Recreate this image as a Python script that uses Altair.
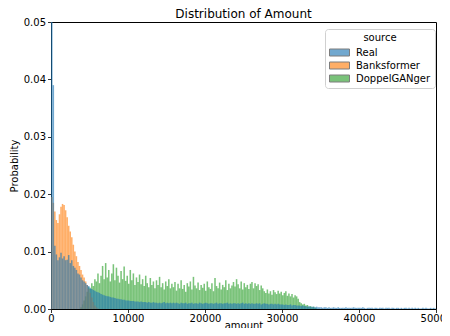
import altair as alt
import pandas as pd

BIN_WIDTH = 200
sources = ["Real", "Banksformer", "DoppelGANger"]
colors = ["#1f77b4", "#ff7f0e", "#2ca02c"]
x_ticks = [0, 10000, 20000, 30000, 40000, 50000]
y_ticks = [0.0, 0.01, 0.02, 0.03, 0.04, 0.05]

real_start = 0
real_prob = [
    0.06, 0.039, 0.011, 0.0095, 0.0085, 0.009, 0.0098, 0.0088, 0.0092, 0.0085,
    0.0086, 0.0094, 0.008, 0.0085, 0.0075, 0.0072, 0.0068, 0.0062, 0.006, 0.0055,
    0.005, 0.0048, 0.0045, 0.0042, 0.004, 0.0037, 0.0035, 0.0033, 0.0032, 0.003,
    0.0029, 0.0028, 0.0026, 0.0025, 0.0024, 0.0023, 0.0022, 0.0022, 0.0021, 0.002,
    0.002, 0.0019, 0.0018, 0.0018, 0.0017, 0.0017, 0.0016, 0.0016, 0.0015, 0.0015,
    0.0015, 0.0014, 0.0014, 0.0014, 0.0013, 0.0013, 0.0013, 0.0012, 0.0013, 0.0012,
    0.0012, 0.0012, 0.0011, 0.0012, 0.0011, 0.0011, 0.0012, 0.0011, 0.0011, 0.001,
    0.0011, 0.001, 0.0011, 0.0012, 0.001, 0.0011, 0.001, 0.0011, 0.001, 0.0011,
    0.001, 0.0011, 0.001, 0.0009, 0.0011, 0.001, 0.001, 0.0011, 0.0009, 0.001,
    0.001, 0.0011, 0.0009, 0.001, 0.001, 0.0009, 0.0011, 0.001, 0.0009, 0.001,
    0.0011, 0.001, 0.0009, 0.001, 0.001, 0.0009, 0.001, 0.0011, 0.0009, 0.001,
    0.001, 0.0009, 0.001, 0.001, 0.0011, 0.0009, 0.001, 0.0009, 0.001, 0.001,
    0.0009, 0.001, 0.0009, 0.001, 0.0011, 0.0009, 0.001, 0.0009, 0.001, 0.0009,
    0.001, 0.0009, 0.0009, 0.001, 0.0009, 0.001, 0.0008, 0.0009, 0.001, 0.0009,
    0.0009, 0.0008, 0.0009, 0.0009, 0.0008, 0.0009, 0.0008, 0.0009, 0.0008, 0.0008,
    0.0008, 0.0007, 0.0008, 0.0007, 0.0007, 0.0008, 0.0006, 0.0007, 0.0007, 0.0006,
    0.0006, 0.0006, 0.0005, 0.0006, 0.0005, 0.0005, 0.0004, 0.0005, 0.0004, 0.0004,
    0.0004, 0.0003, 0.0004, 0.0003, 0.0003, 0.0003, 0.0002, 0.0003, 0.0003, 0.0002,
    0.0003, 0.0002, 0.0002, 0.0003, 0.0002, 0.0002, 0.0003, 0.0002, 0.0002, 0.0002,
    0.0002, 0.0003, 0.0002, 0.0002, 0.0002, 0.0002, 0.0003, 0.0002, 0.0002, 0.0002,
    0.0002, 0.0002, 0.0003, 0.0002, 0.0001, 0.0002, 0.0002, 0.0002, 0.0002, 0.0001,
    0.0002, 0.0002, 0.0001, 0.0002, 0.0002, 0.0002, 0.0001, 0.0002, 0.0002, 0.0002,
    0.0001, 0.0002, 0.0002, 0.0001, 0.0002, 0.0002, 0.0001, 0.0002, 0.0001, 0.0002,
    0.0002, 0.0001, 0.0002, 0.0001, 0.0002, 0.0001, 0.0002, 0.0001, 0.0002, 0.0001,
    0.0001, 0.0002, 0.0001, 0.0002, 0.0001, 0.0001, 0.0002, 0.0001, 0.0002, 0.0001,
]

banks_start = 0
banks_prob = [
    0.0195, 0.0185, 0.017, 0.0155, 0.015, 0.0165, 0.0178, 0.0183, 0.0181, 0.0172,
    0.016, 0.0145, 0.0135, 0.0125, 0.0112, 0.01, 0.0092, 0.0082, 0.0075, 0.0068,
    0.006, 0.0055, 0.0048, 0.0042, 0.0035, 0.0028, 0.002, 0.0012, 0.0006, 0.0003,
    0.0001,
]

doppel_start = 3800
doppel_prob = [
    0.0003, 0.0008, 0.0015, 0.0022, 0.003, 0.0038, 0.0035, 0.0045, 0.004, 0.0052,
    0.0048, 0.0062, 0.0045, 0.0058, 0.0075, 0.0052, 0.008, 0.0055, 0.0068, 0.0048,
    0.0062, 0.0078, 0.005, 0.0072, 0.0058, 0.0046, 0.0066, 0.0052, 0.0074, 0.0049,
    0.0058, 0.0044, 0.0068, 0.005, 0.0062, 0.0042, 0.0055, 0.0047, 0.006, 0.0043,
    0.0052, 0.004, 0.0058, 0.0045, 0.0038, 0.0054, 0.0042, 0.0048, 0.0036, 0.005,
    0.0042, 0.0056, 0.0038, 0.0045, 0.0034, 0.0048, 0.004, 0.0052, 0.0036, 0.0044,
    0.0038, 0.0047, 0.0032, 0.0044, 0.0036, 0.005, 0.0035, 0.0042, 0.003, 0.0045,
    0.0039, 0.0048, 0.0034, 0.0056, 0.0041, 0.0036, 0.0046, 0.0033, 0.0042, 0.0037,
    0.0044, 0.0032, 0.0048, 0.0038, 0.0035, 0.0045, 0.0031, 0.0054, 0.004, 0.0036,
    0.0046, 0.0034, 0.0042, 0.0038, 0.005, 0.0033, 0.0044, 0.0036, 0.0041, 0.0047,
    0.0039, 0.0052, 0.0043, 0.0036, 0.0048, 0.0034, 0.0045, 0.0038, 0.0042, 0.0035,
    0.0044, 0.0047, 0.0036, 0.0045, 0.004, 0.0043, 0.0033, 0.0041, 0.0036, 0.0031,
    0.0028, 0.0034, 0.0027, 0.0031, 0.0025, 0.0033, 0.0029, 0.0026, 0.0032, 0.0027,
    0.003, 0.0024, 0.0028, 0.0031, 0.0023, 0.0027, 0.0022, 0.0026, 0.002, 0.0024,
    0.0022, 0.0018, 0.0012, 0.001, 0.0008, 0.0009, 0.0006, 0.0007, 0.0004, 0.0005,
    0.0003, 0.0004, 0.0002, 0.0001,
]

rows = []
# drawing order: DoppelGANger at the bottom, Real on top (as seaborn does)
for name, start, vals in [
    ("DoppelGANger", doppel_start, doppel_prob),
    ("Banksformer", banks_start, banks_prob),
    ("Real", real_start, real_prob),
]:
    for i, v in enumerate(vals):
        rows.append({
            "source": name,
            "bin_start": start + i * BIN_WIDTH,
            "bin_end": start + (i + 1) * BIN_WIDTH,
            "probability": v,
        })
df = pd.DataFrame(rows)

FONT = "DejaVu Sans"

chart = alt.Chart(df).mark_bar(clip=True, opacity=0.63, strokeWidth=0).encode(
    x=alt.X("bin_start:Q",
            scale=alt.Scale(domain=[0, 50000], nice=False, zero=False, padding=0),
            axis=alt.Axis(values=x_ticks, format="d", title="amount",
                          labelFlush=False, titlePadding=-3, labelPadding=1)),
    x2="bin_end:Q",
    y=alt.Y("probability:Q", stack=None,
            scale=alt.Scale(domain=[0, 0.05], nice=False, padding=0),
            axis=alt.Axis(values=y_ticks, format=".2f", title="Probability")),
    y2=alt.datum(0),
    color=alt.Color("source:N",
                    scale=alt.Scale(domain=sources, range=colors),
                    legend=alt.Legend(
                        title="source", orient="none", legendX=274, legendY=7,
                        fillColor="white", strokeColor="#d0d0d0", padding=4,
                        cornerRadius=3, titleAnchor="middle", titleFontSize=10,
                        titleFontWeight="normal", labelFontSize=10,
                        titlePadding=4,
                        symbolType="M-1,-0.7H3V0.7H-1Z", symbolSize=100,
                        symbolStrokeColor="#333333", symbolStrokeWidth=1,
                        symbolOpacity=0.63, rowPadding=2, labelOffset=16,
                        titleFont=FONT, labelFont=FONT, labelColor="black",
                        titleColor="black")),
).properties(
    width=385, height=287,
    title=alt.TitleParams("Distribution of Amount", fontSize=12, font=FONT,
                          fontWeight="normal", color="black", offset=0, dy=4),
    autosize="none",
    padding={"left": 43, "top": 14, "right": 6, "bottom": 19},
).configure_view(
    stroke="black", strokeWidth=1
).configure_axis(
    domain=False, grid=False, tickColor="black", tickSize=3.5, tickWidth=0.8,
    labelFont=FONT, labelFontSize=10, labelColor="black",
    titleFont=FONT, titleFontSize=10, titleFontWeight="normal", titleColor="black",
    labelPadding=2,
)

chart.save("out.html", embed_options={"renderer": "svg", "actions": False})
